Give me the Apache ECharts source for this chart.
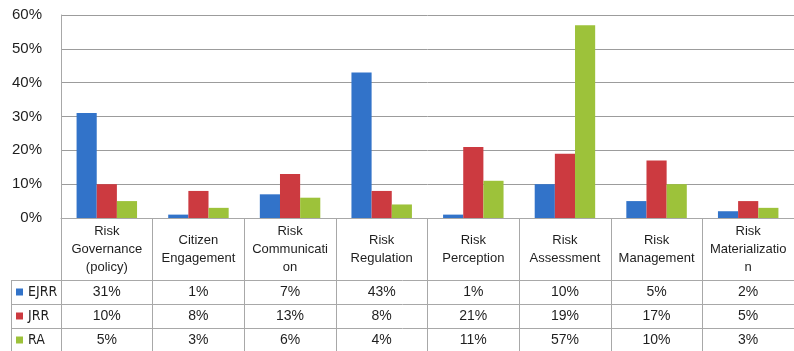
<!DOCTYPE html>
<html>
<head>
<meta charset="utf-8">
<script src="https://cdn.jsdelivr.net/npm/echarts@6/dist/echarts.min.js"></script>
<style>
  html, body { margin: 0; padding: 0; background: #fff; }
  #chart { width: 794px; height: 351px; }
</style>
</head>
<body>
<div id="chart"></div>
<script>
// Topic categories (header labels of the data table, wrapped as printed)
const categories = [
  'Risk\nGovernance\n(policy)',
  'Citizen\nEngagement',
  'Risk\nCommunicati\non',
  'Risk\nRegulation',
  'Risk\nPerception',
  'Risk\nAssessment',
  'Risk\nManagement',
  'Risk\nMaterializatio\nn'
];

// Share of articles per topic, in percent
const seriesNames = ['EJRR', 'JRR', 'RA'];
const ejrr = [31, 1, 7, 43, 1, 10, 5, 2];
const jrr  = [10, 8, 13, 8, 21, 19, 17, 5];
const ra   = [5, 3, 6, 4, 11, 57, 10, 3];

// Value axis ticks (percent)
const yTicks = [0, 10, 20, 30, 40, 50, 60];

const seriesData = [ejrr, jrr, ra];
const colors = ['#3273C9', '#CC3A40', '#9DC23A'];

// Layout of the plot and the data table beneath it
const GRID_LEFT = 61, GRID_TOP = 15, GRID_W = 742, GRID_H = 203;
const GRID_BOTTOM = GRID_TOP + GRID_H;     // table top edge
const ROW_TOP = 280, ROW_H = 24;           // first data row of the table
const TABLE_LEFT = 11, PAGE_W = 794, PAGE_H = 351;
const lineColor = '#a8a8a8';
const textColor = '#1e1e1e';
const font = '"Liberation Sans", Arial, sans-serif';
const narrowFont = '"Liberation Sans Narrow", "DejaVu Sans Condensed", "Liberation Sans", sans-serif';

const chart = echarts.init(document.getElementById('chart'), null, { renderer: 'canvas' });

// One hidden-line category axis per table row, carrying the row's values as labels
const rowAxes = seriesData.map((vals, k) => ({
  type: 'category',
  gridIndex: 0,
  position: 'bottom',
  data: categories,
  offset: ROW_TOP + ROW_H * k + ROW_H / 2 - GRID_BOTTOM,
  axisLine: { show: false },
  axisTick: { show: false },
  axisLabel: {
    interval: 0,
    margin: 0,
    verticalAlign: 'middle',
    fontSize: 14,
    fontFamily: font,
    color: textColor,
    formatter: (v, i) => vals[i] + '%'
  }
}));

// Table borders for the row separators and the legend column
const tableLines = [];
for (let k = 0; k < seriesData.length; k++) {
  const y = ROW_TOP + ROW_H * k + 0.5;
  tableLines.push({
    type: 'line', silent: true,
    shape: { x1: TABLE_LEFT, y1: y, x2: PAGE_W, y2: y },
    style: { stroke: lineColor, lineWidth: 1 }
  });
}
tableLines.push({
  type: 'line', silent: true,
  shape: { x1: TABLE_LEFT + 0.5, y1: ROW_TOP, x2: TABLE_LEFT + 0.5, y2: PAGE_H },
  style: { stroke: lineColor, lineWidth: 1 }
});

chart.setOption({
  animation: false,
  color: colors,
  grid: { left: GRID_LEFT, top: GRID_TOP, width: GRID_W, height: GRID_H, containLabel: false },
  legend: {
    data: seriesNames,
    orient: 'vertical',
    left: 16,
    top: ROW_TOP,
    height: ROW_H * 4,
    padding: 0,
    itemGap: 0,
    itemWidth: 7,
    itemHeight: 7,
    icon: 'rect',
    textStyle: { fontSize: 14, lineHeight: ROW_H, fontFamily: narrowFont, color: textColor }
  },
  xAxis: [
    {
      type: 'category',
      gridIndex: 0,
      data: categories,
      axisLine: { show: true, lineStyle: { color: lineColor, width: 1 } },
      axisTick: {
        show: true, interval: 0, alignWithLabel: false,
        length: PAGE_H - GRID_BOTTOM,
        lineStyle: { color: lineColor, width: 1 }
      },
      axisLabel: {
        interval: 0,
        margin: (ROW_TOP - GRID_BOTTOM) / 2,
        verticalAlign: 'middle',
        lineHeight: 18,
        fontSize: 13,
        fontFamily: font,
        color: textColor
      }
    }
  ].concat(rowAxes),
  yAxis: {
    type: 'value',
    min: yTicks[0],
    max: yTicks[yTicks.length - 1],
    interval: yTicks[1] - yTicks[0],
    axisLine: { show: true, lineStyle: { color: lineColor, width: 1 } },
    axisTick: { show: false },
    splitLine: { show: true, lineStyle: { color: '#9c9c9c', width: 1 } },
    axisLabel: {
      margin: 19,
      fontSize: 15,
      fontFamily: font,
      color: textColor,
      formatter: '{value}%'
    }
  },
  series: seriesData.map((vals, k) => ({
    name: seriesNames[k],
    type: 'bar',
    xAxisIndex: 0,
    yAxisIndex: 0,
    data: vals,
    barGap: '0%',
    barCategoryGap: '34%'
  })),
  graphic: tableLines
});
</script>
</body>
</html>
